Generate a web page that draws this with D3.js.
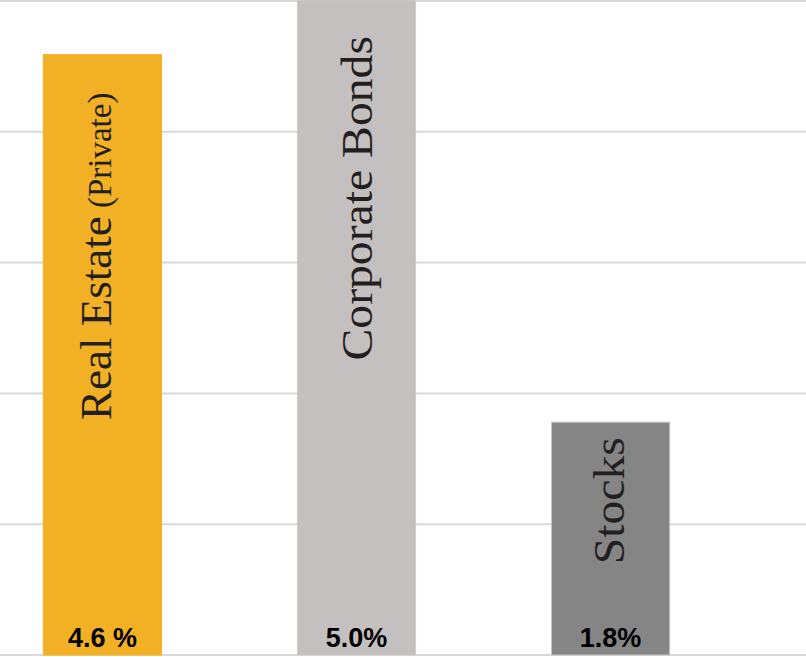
<!DOCTYPE html>
<html>
<head>
<meta charset="utf-8">
<script src="https://cdn.jsdelivr.net/npm/d3@7"></script>
<style>
  html, body { margin: 0; padding: 0; background: #fff; }
  svg { display: block; }
</style>
</head>
<body>
<svg id="chart" width="806" height="657"></svg>
<script>
// ---- data ----
const categories = ["Real Estate", "Corporate Bonds", "Stocks"];
const categorySuffix = ["(Private)", "", ""];
const values = [4.59, 5.0, 1.78];
const valueLabels = ["4.6 %", "5.0%", "1.8%"];
const gridTicks = [0, 1, 2, 3, 4, 5];
const colors = ["#F2B024", "#C4C0BF", "#858585"];
const strokes = ["#F2B024", "#CFCBCA", "#C4C4C4"];

// ---- layout ----
const W = 806, H = 657;
const svg = d3.select("#chart");

const x = d3.scaleBand()
  .domain(categories)
  .range([-8, 721])
  .paddingInner(0.531)
  .paddingOuter(0.2);

const y = d3.scaleLinear().domain([0, 5]).range([655, 1]);

// gridlines
svg.append("g")
  .selectAll("line")
  .data(gridTicks)
  .join("line")
  .attr("x1", 0).attr("x2", W)
  .attr("y1", d => y(d)).attr("y2", d => y(d))
  .attr("stroke", "#D9D9D9")
  .attr("stroke-width", 2);

// bars
svg.append("g")
  .selectAll("rect")
  .data(values)
  .join("rect")
  .attr("x", (d, i) => x(categories[i]) + 0.5)
  .attr("y", d => y(d) - (d >= 5 ? 1 : 0))
  .attr("width", x.bandwidth() - 1)
  .attr("height", d => y(0) - y(d) + (d >= 5 ? 1 : 0))
  .attr("fill", (d, i) => colors[i])
  .attr("stroke", (d, i) => strokes[i])
  .attr("stroke-width", 1);

// category labels (rotated)
const labelTopOffset = [38, 35, 15];
const labelBaseShift = [9, 15, 13];
const labelStretch = [1.0, 1.06, 1.06];
const cat = svg.append("g")
  .selectAll("text")
  .data(categories)
  .join("text")
  .attr("transform", (d, i) => {
    const cx = x(d) + x.bandwidth() / 2 + labelBaseShift[i];
    const cy = y(values[i]) + labelTopOffset[i];
    return `translate(${cx},${cy}) rotate(-90) scale(${labelStretch[i]},1)`;
  })
  .attr("text-anchor", "end")
  .attr("font-family", "'Liberation Serif', 'Times New Roman', serif")
  .attr("font-size", 45)
  .attr("fill", "#231F20");
cat.append("tspan").text(d => d);
cat.append("tspan")
  .attr("font-size", 33)
  .text((d, i) => categorySuffix[i] ? " " + categorySuffix[i] : "");

// value labels
svg.append("g")
  .selectAll("text")
  .data(valueLabels)
  .join("text")
  .attr("x", (d, i) => x(categories[i]) + x.bandwidth() / 2)
  .attr("y", 647)
  .attr("text-anchor", "middle")
  .attr("font-family", "'Liberation Sans', Arial, sans-serif")
  .attr("font-weight", "bold")
  .attr("font-size", 27)
  .attr("fill", "#000")
  .text(d => d);
</script>
</body>
</html>
